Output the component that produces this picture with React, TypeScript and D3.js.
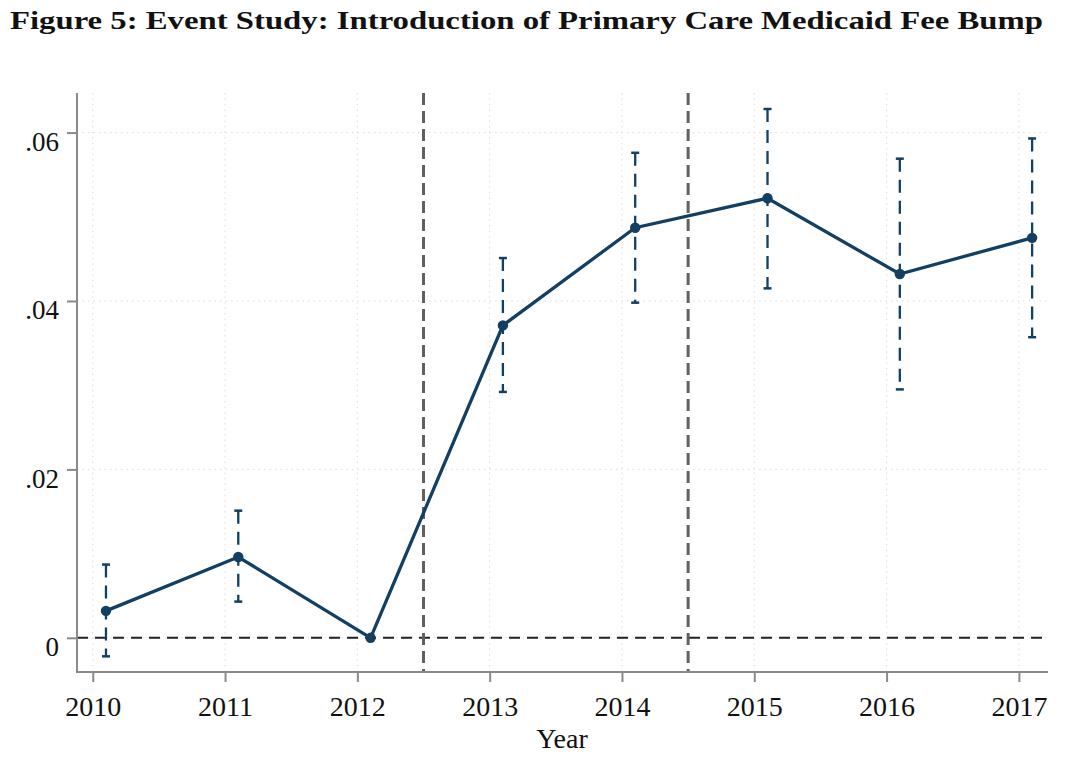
import React, { useRef, useEffect } from 'react'
import * as d3 from 'd3'

// event-study estimates
const years = [2010, 2011, 2012, 2013, 2014, 2015, 2016, 2017]
const estimates = [0.0032, 0.0096, 0.0, 0.0371, 0.0487, 0.0522, 0.0432, 0.0475]
const ciLower = [-0.0022, 0.0043, 0.0, 0.0292, 0.0398, 0.0415, 0.0295, 0.0357]
const ciUpper = [0.0087, 0.0151, 0.0, 0.0451, 0.0576, 0.0628, 0.0569, 0.0593]
const yTicks = [0, 0.02, 0.04, 0.06]
const yTickLabels = ['0', '.02', '.04', '.06']
const eventLines = [2012.5, 2014.5]
const title = 'Figure 5:  Event Study: Introduction of Primary Care Medicaid Fee Bump'
const xTitle = 'Year'

const NAVY = '#133f63'
const FONT = '"Liberation Serif", "DejaVu Serif", serif'

interface Row {
  year: number
  est: number
  lo: number
  hi: number
}

const rows: Row[] = years.map((y, i) => ({ year: y, est: estimates[i], lo: ciLower[i], hi: ciUpper[i] }))

const AxisBottom = ({ scale, y }: { scale: d3.ScaleLinear<number, number>; y: number }) => {
  const ref = useRef<SVGGElement>(null)
  useEffect(() => {
    if (!ref.current) return
    const g = d3.select(ref.current)
    g.call(d3.axisBottom(scale).tickValues(years).tickFormat(d3.format('d')).tickSize(10).tickPadding(14))
    g.select('.domain').remove()
    g.selectAll('.tick line').attr('stroke', '#8a8a8a').attr('stroke-width', 2)
    g.selectAll('.tick text')
      .attr('font-family', FONT)
      .attr('font-size', 28)
      .attr('fill', '#111')
  }, [scale, y])
  return <g ref={ref} transform={`translate(0,${y})`} />
}

const AxisLeft = ({ scale, x }: { scale: d3.ScaleLinear<number, number>; x: number }) => {
  const ref = useRef<SVGGElement>(null)
  useEffect(() => {
    if (!ref.current) return
    const g = d3.select(ref.current)
    g.call(
      d3.axisLeft(scale)
        .tickValues(yTicks)
        .tickFormat((d, i) => yTickLabels[i])
        .tickSize(10)
        .tickPadding(8)
    )
    g.select('.domain').remove()
    g.selectAll('.tick line').attr('stroke', '#8a8a8a').attr('stroke-width', 2)
    g.selectAll('.tick text')
      .attr('font-family', FONT)
      .attr('font-size', 27)
      .attr('fill', '#111')
      .attr('dy', '0.66em')
  }, [scale, x])
  return <g ref={ref} transform={`translate(${x},0)`} />
}

export default function App() {
  const width = 1066
  const height = 761
  const plot = { left: 77, right: 1048, top: 93, bottom: 672 }

  const xScale = d3.scaleLinear().domain([2009.881, 2017.22]).range([plot.left, plot.right])
  const yScale = d3.scaleLinear().domain([-0.00406, 0.0647]).range([plot.bottom, plot.top])

  // points sit a little to the right of each year tick
  const px = (d: Row) => xScale(d.year + 0.1)

  const lineGen = d3.line<Row>()
    .x(d => px(d))
    .y(d => yScale(d.est))

  const ciRows = rows.filter(d => d.hi !== d.lo)

  return (
    <svg width={width} height={height} style={{ position: 'absolute', left: 0, top: 0, background: '#fff' }}>
      <text x={10} y={29} fontFamily={FONT} fontWeight="bold" fontSize={25} textLength={1033} lengthAdjust="spacingAndGlyphs" fill="#111">
        {title}
      </text>

      {/* grid */}
      <g stroke="#dcdcdc" strokeWidth={1} strokeDasharray="1.5 4">
        {years.map(y => (
          <line key={'gx' + y} x1={xScale(y)} x2={xScale(y)} y1={plot.top} y2={plot.bottom} />
        ))}
        {yTicks.map(t => (
          <line key={'gy' + t} x1={plot.left} x2={plot.right} y1={yScale(t)} y2={yScale(t)} />
        ))}
      </g>

      {/* zero reference */}
      <line x1={plot.left} x2={plot.right} y1={yScale(0)} y2={yScale(0)} stroke="#222" strokeWidth={2} strokeDasharray="11 7" />

      {/* policy lines */}
      {eventLines.map(e => (
        <line key={e} x1={xScale(e)} x2={xScale(e)} y1={plot.top} y2={plot.bottom} stroke="#606060" strokeWidth={3} strokeDasharray="12 6" />
      ))}

      {/* confidence intervals */}
      <g stroke={NAVY} strokeWidth={2.3}>
        {ciRows.map(d => (
          <g key={'ci' + d.year}>
            <line x1={px(d)} x2={px(d)} y1={yScale(d.hi)} y2={yScale(d.lo)} strokeDasharray="13 8" />
            <line x1={px(d) - 4} x2={px(d) + 4} y1={yScale(d.hi)} y2={yScale(d.hi)} strokeWidth={2.5} />
            <line x1={px(d) - 4} x2={px(d) + 4} y1={yScale(d.lo)} y2={yScale(d.lo)} strokeWidth={2.5} />
          </g>
        ))}
      </g>

      <path d={lineGen(rows) ?? ''} fill="none" stroke={NAVY} strokeWidth={3.3} />
      {rows.map(d => (
        <circle key={'p' + d.year} cx={px(d)} cy={yScale(d.est)} r={5.2} fill={NAVY} />
      ))}

      {/* axis lines */}
      <line x1={plot.left} x2={plot.left} y1={plot.top} y2={plot.bottom + 1} stroke="#8a8a8a" strokeWidth={2} />
      <line x1={plot.left - 1} x2={plot.right} y1={plot.bottom} y2={plot.bottom} stroke="#8a8a8a" strokeWidth={2} />
      <AxisLeft scale={yScale} x={plot.left} />
      <AxisBottom scale={xScale} y={plot.bottom} />

      <text x={562} y={748} textAnchor="middle" fontFamily={FONT} fontSize={28} fill="#111">
        {xTitle}
      </text>
    </svg>
  )
}
